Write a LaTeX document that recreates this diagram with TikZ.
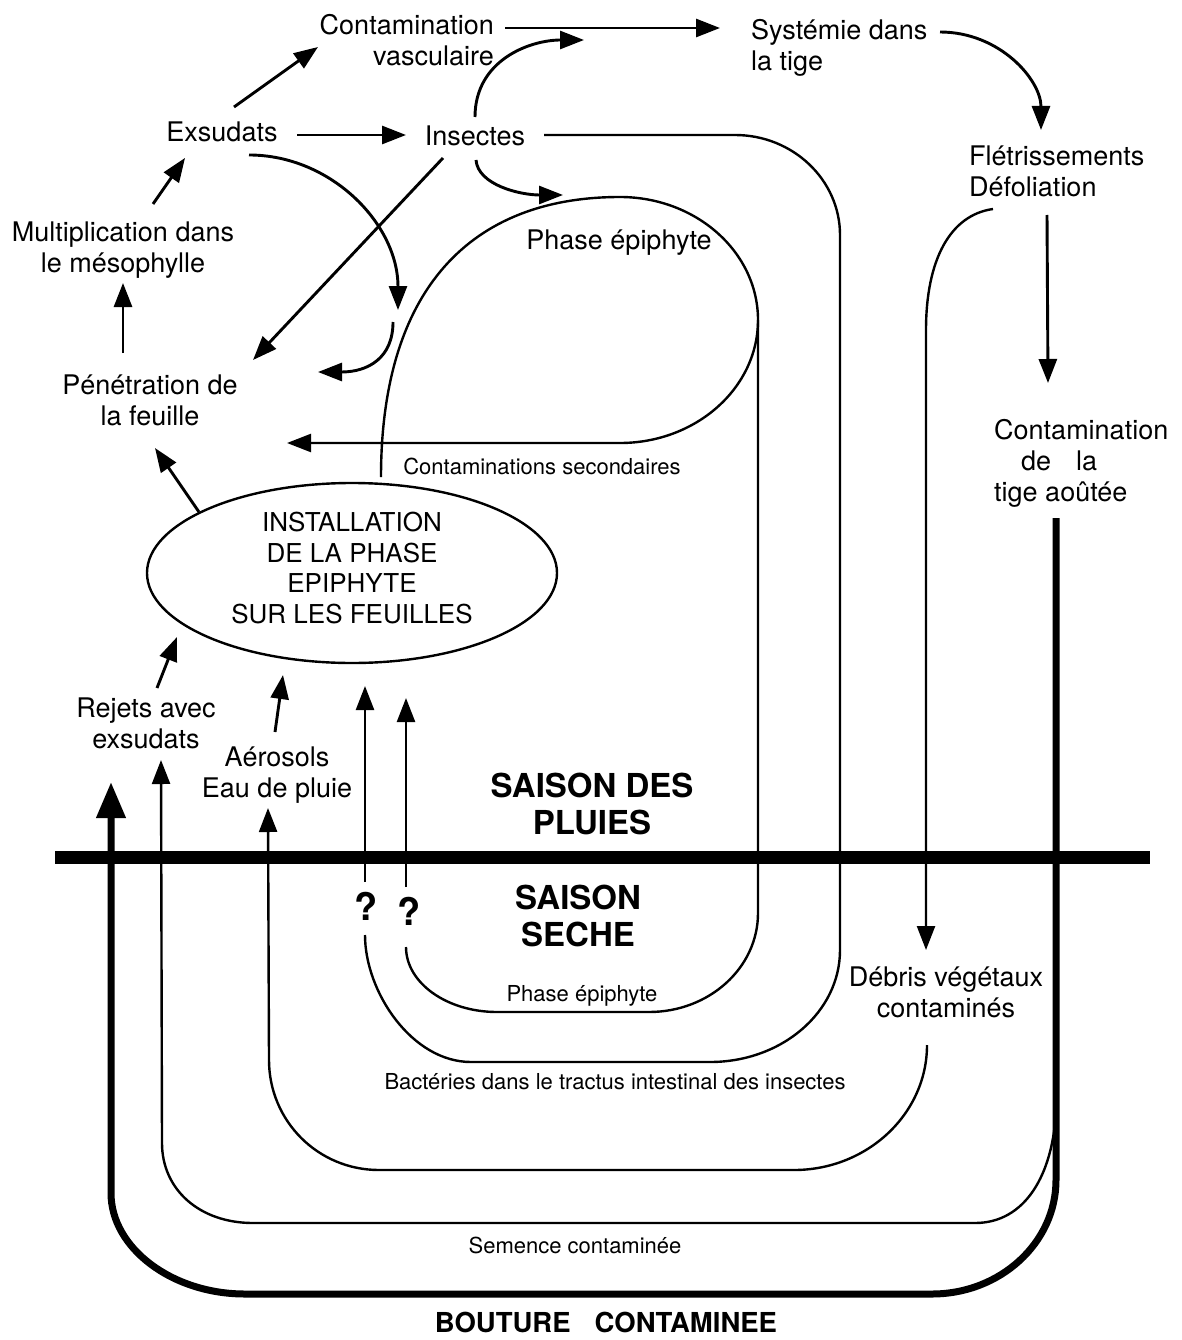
\documentclass[tikz,border=0pt]{standalone}
\usepackage{fontspec}
\setmainfont{TeX Gyre Heros}
\usetikzlibrary{arrows.meta,shapes.geometric}
\begin{document}
\begin{tikzpicture}[x=1pt,y=-1pt,
  lab/.style={font=\fontsize{27}{31}\selectfont, inner sep=0pt, align=center},
  sml/.style={font=\fontsize{22}{26}\selectfont, inner sep=0pt},
  big/.style={font=\bfseries\fontsize{33}{37}\selectfont, inner sep=0pt, align=center},
  qm/.style={font=\bfseries\fontsize{38}{40}\selectfont, inner sep=0pt},
  conn/.style={line width=2.4pt},
  ahead/.style={-{Triangle[length=24pt,width=18pt]}},
  arr/.style={line width=2.9pt, ahead},
  heavy/.style={line width=7pt, -{Triangle[length=36pt,width=28pt]}}
]
\useasboundingbox[fill=white] (0,0) rectangle (1182,1340);

% ---------- nodes ----------
\node[lab, anchor=east, align=right] (cv) at (494,40) {Contamination\\vasculaire};
\node[lab, anchor=west, align=left] (sys) at (751,48) {Systémie dans\\la tige};
\node[lab] (exs) at (222,132) {Exsudats};
\node[lab] (ins) at (475,136) {Insectes};
\node[lab] (mult) at (123,250) {Multiplication dans\\le mésophylle};
\node[lab] (pen) at (150,400) {Pénétration de\\la feuille};
\node[lab] (phase) at (619,243) {Phase épiphyte};
\node[lab, anchor=west, align=left] (flet) at (969,171) {Flétrissements\\Défoliation};
\node[lab, anchor=west, align=left] (ctige) at (994,463) {Contamination\\\hspace*{27pt}de\hspace{25pt}la\\tige aoûtée};
\node[sml] (csec) at (542,466) {Contaminations secondaires};
\node[draw, ellipse, line width=2.4pt, minimum width=410pt, minimum height=180pt,
      inner sep=0pt, align=center, font=\fontsize{26}{30.5}\selectfont] (inst) at (352,573)
      {INSTALLATION\\DE LA PHASE\\EPIPHYTE\\SUR LES FEUILLES\rule[-10pt]{0pt}{10pt}};
\node[lab] (rej) at (146,723) {Rejets avec\\exsudats};
\node[lab] (aer) at (277,775) {Aérosols\\Eau de pluie};
\node[big] (pluies) at (592,804) {SAISON DES\\PLUIES};
\node[big] (seche) at (578,916) {SAISON\\SECHE};
\node[qm] (q1) at (366,906) {?};
\node[qm] (q2) at (409,911) {?};
\node[sml] (phs) at (582,996) {Phase épiphyte};
\node[lab] (deb) at (946,992) {Débris végétaux\\contaminés};
\node[sml] (bact) at (615,1082) {Bactéries dans le tractus intestinal des insectes};
\node[sml] (sem) at (575,1245) {Semence contaminée};
\node[font=\bfseries\fontsize{27.5}{30}\selectfont, inner sep=0pt] (bout) at (606,1322) {BOUTURE\hspace{24pt}CONTAMINEE};

% ---------- coordinates ----------
\coordinate (exsA) at (234,107);  \coordinate (cvA) at (318,47);
\coordinate (exsB) at (297,135);  \coordinate (insA) at (406,135);
\coordinate (multA) at (153,204); \coordinate (exsC) at (185,158);
\coordinate (penA) at (123,353);  \coordinate (multB) at (123,283);
\coordinate (instA) at (199,512); \coordinate (penB) at (155,448);
\coordinate (cvB) at (505,28);    \coordinate (sysA) at (720,28);
\coordinate (insUp) at (475,117); \coordinate (upEnd) at (584,40);
\coordinate (insDn) at (476,160); \coordinate (dnEnd) at (563,195);
\coordinate (insDg) at (443,158); \coordinate (penC) at (253,360);
\coordinate (exsD) at (249,155);  \coordinate (midA) at (398,310);
\coordinate (midB) at (393,322);  \coordinate (penD) at (318,372);
\coordinate (sysB) at (940,32);   \coordinate (fletA) at (1041,130);
\coordinate (fletB) at (1047,215);\coordinate (ctA) at (1048,383);
\coordinate (insR) at (544,135);  \coordinate (gutEnd) at (365,935);
\coordinate (gutUp) at (365,882); \coordinate (instG) at (365,686);
\coordinate (instB) at (381,477); \coordinate (penE) at (287,443);
\coordinate (lobeR) at (758,320); \coordinate (phEnd) at (406,947);
\coordinate (phUp) at (406,887);  \coordinate (instP) at (406,698);
\coordinate (fletC) at (993,209); \coordinate (debA) at (926,950);
\coordinate (debB) at (927,1045); \coordinate (aerA) at (268,808);
\coordinate (aerB) at (275,732);  \coordinate (instC) at (283,675);
\coordinate (rejA) at (157,688);  \coordinate (instD) at (177,637);
\coordinate (tigeB) at (1056,1110); \coordinate (rejB) at (161,760);
\coordinate (tigeA) at (1056,518); \coordinate (boutEnd) at (111,782);
\coordinate (bandL) at (55,857);  \coordinate (bandR) at (1150,857);

% ---------- season divider ----------
\draw[line width=13pt] (bandL) -- (bandR);

% ---------- short arrows ----------
\draw[arr] (exsA) -- (cvA);
\draw[arr] (exsB) -- (insA);
\draw[arr] (multA) -- (exsC);
\draw[arr] (penA) -- (multB);
\draw[arr] (instA) -- (penB);
\draw[arr] (cvB) -- (sysA);
\draw[arr] (insUp) .. controls (475,60) and (530,40) .. (upEnd);
\draw[arr] (insDn) .. controls (478,185) and (520,195) .. (dnEnd);
\draw[arr] (insDg) -- (penC);
\draw[arr] (exsD) .. controls (331,155) and (398,224) .. (midA);
\draw[arr] (midB) .. controls (393,358) and (368,372) .. (penD);
\draw[arr] (sysB) .. controls (1000,32) and (1041,80) .. (fletA);
\draw[arr] (fletB) -- (ctA);
\draw[arr] (aerB) -- (instC);
\draw[arr] (rejA) -- (instD);

% ---------- insect gut loop ----------
\draw[conn] (insR) -- (735,135) .. controls (793,135) and (840,180) .. (840,235)
  -- (840,950) .. controls (840,1012) and (782,1062) .. (710,1062)
  -- (471,1062) .. controls (412,1062) and (365,992) .. (gutEnd);
\draw[conn,ahead] (gutUp) -- (instG);

% ---------- epiphytic phase loop ----------
\draw[conn,ahead] (instB) .. controls (381,290) and (470,197) .. (620,197)
  .. controls (696,197) and (758,252) .. (lobeR)
  .. controls (758,388) and (696,443) .. (620,443) -- (penE);
\draw[conn] (lobeR) -- (758,913) .. controls (758,968) and (709,1012) .. (649,1012)
  -- (497,1012) .. controls (447,1012) and (406,983) .. (phEnd);
\draw[conn,ahead] (phUp) -- (instP);

% ---------- plant debris ----------
\draw[conn,ahead] (fletC) .. controls (950,215) and (926,260) .. (926,330) -- (debA);
\draw[conn,ahead] (debB) .. controls (927,1114) and (867,1170) .. (794,1170)
  -- (379,1170) .. controls (318,1170) and (269,1121) .. (269,1060) -- (aerA);

% ---------- seed ----------
\draw[conn,ahead] (tigeB) .. controls (1053,1175) and (1025,1223) .. (975,1223)
  -- (253,1223) .. controls (200,1223) and (162,1190) .. (162,1143) -- (rejB);

% ---------- cutting ----------
\draw[heavy] (tigeA) -- (1056,1180) .. controls (1056,1243) and (1000,1294) .. (932,1294)
  -- (245,1294) .. controls (172,1294) and (111,1248) .. (111,1193) -- (boutEnd);
\end{tikzpicture}
\end{document}
